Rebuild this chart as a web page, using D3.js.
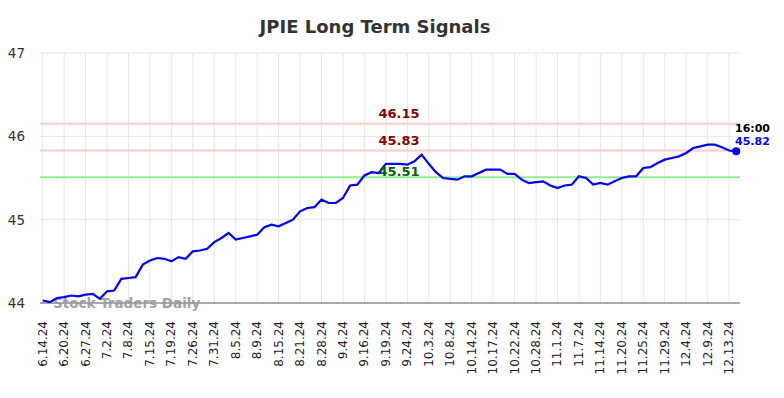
<!DOCTYPE html>
<html><head><meta charset="utf-8">
<script src="https://cdn.jsdelivr.net/npm/d3@7"></script>
<style>body{margin:0;background:#fff}svg{display:block;font-family:"DejaVu Sans",sans-serif}</style>
</head><body><svg id="c" width="784" height="398"></svg>
<script>
const tickLabels = ["6.14.24","6.20.24","6.27.24","7.2.24","7.8.24","7.15.24","7.19.24","7.26.24","7.31.24","8.5.24","8.9.24","8.15.24","8.21.24","8.28.24","9.4.24","9.16.24","9.19.24","9.24.24","10.3.24","10.8.24","10.14.24","10.17.24","10.22.24","10.28.24","11.1.24","11.7.24","11.14.24","11.20.24","11.25.24","11.29.24","12.4.24","12.9.24","12.13.24"];
const prices = [44.03,44.01,44.06,44.07,44.09,44.08,44.10,44.11,44.05,44.14,44.15,44.29,44.30,44.31,44.46,44.51,44.54,44.53,44.50,44.55,44.53,44.62,44.63,44.65,44.73,44.78,44.84,44.76,44.78,44.80,44.82,44.91,44.94,44.92,44.96,45.00,45.10,45.14,45.15,45.24,45.20,45.20,45.26,45.41,45.42,45.53,45.57,45.56,45.67,45.67,45.67,45.66,45.70,45.78,45.67,45.57,45.50,45.49,45.48,45.52,45.52,45.56,45.60,45.60,45.60,45.55,45.55,45.48,45.44,45.45,45.46,45.41,45.38,45.41,45.42,45.52,45.50,45.42,45.44,45.42,45.46,45.50,45.52,45.52,45.62,45.63,45.68,45.72,45.74,45.76,45.80,45.86,45.88,45.90,45.90,45.87,45.83,45.82];
const tickEvery = 3;
const yTicks = [44,45,46,47];
const resistance = [46.15, 45.83];
const support = [45.51];
const lastTime = "16:00";

const svg = d3.select("#c");
const L = 40, R = 740, T = 53, B = 303;
const x = d3.scaleLinear().domain([0, prices.length - 1]).range([42.7, 736.2]);
const y = d3.scaleLinear().domain([44, 47]).range([B, T]);

// title
svg.append("text").attr("x", 375).attr("y", 33).attr("text-anchor", "middle")
  .attr("font-size", 18).attr("font-weight", "bold").attr("fill", "#333").text("JPIE Long Term Signals");

// grid
const tickIdx = tickLabels.map((d, i) => i * tickEvery);
svg.append("g").selectAll("line").data(tickIdx).join("line")
  .attr("x1", d => x(d)).attr("x2", d => x(d)).attr("y1", T).attr("y2", B)
  .attr("stroke", "#e6e6e6").attr("stroke-width", 1);
svg.append("g").selectAll("line").data(yTicks.slice(1)).join("line")
  .attr("x1", L).attr("x2", R).attr("y1", d => y(d)).attr("y2", d => y(d))
  .attr("stroke", "#e6e6e6").attr("stroke-width", 1);

// y labels
svg.append("g").selectAll("text").data(yTicks).join("text")
  .attr("x", 25).attr("y", d => y(d) + 5).attr("text-anchor", "end")
  .attr("font-size", 13.5).attr("fill", "#333").text(d => d);

// x labels
svg.append("g").selectAll("text").data(tickLabels).join("text")
  .attr("transform", (d, i) => `translate(${x(tickIdx[i]) + 4},321) rotate(-90)`)
  .attr("text-anchor", "end").attr("font-size", 12).attr("fill", "#222").text(d => d);

// axis line
svg.append("line").attr("x1", L).attr("x2", R).attr("y1", B).attr("y2", B)
  .attr("stroke", "#555").attr("stroke-width", 1);

// watermark
svg.append("text").attr("x", 53).attr("y", 308).attr("font-size", 13.5).attr("font-weight", "bold")
  .attr("fill", "#999").attr("opacity", 0.9).text("Stock Traders Daily");

// level lines
svg.append("g").selectAll("line").data(resistance).join("line")
  .attr("x1", L).attr("x2", R).attr("y1", d => y(d)).attr("y2", d => y(d))
  .attr("stroke", "#ffcccc").attr("stroke-width", 2);
svg.append("g").selectAll("line").data(support).join("line")
  .attr("x1", L).attr("x2", R).attr("y1", d => y(d)).attr("y2", d => y(d))
  .attr("stroke", "#90ee90").attr("stroke-width", 2);

// line
svg.append("path").datum(prices)
  .attr("d", d3.line().x((d, i) => x(i)).y(d => y(d)))
  .attr("fill", "none").attr("stroke", "#0000ff").attr("stroke-width", 2.2);

// level labels
svg.append("g").selectAll("text").data(resistance).join("text")
  .attr("x", 399).attr("y", d => y(d) - 6).attr("text-anchor", "middle")
  .attr("font-size", 13).attr("font-weight", "bold").attr("fill", "#8b0000").text(d => d.toFixed(2));
svg.append("g").selectAll("text").data(support).join("text")
  .attr("x", 399).attr("y", d => y(d) - 1).attr("text-anchor", "middle")
  .attr("font-size", 13).attr("font-weight", "bold").attr("fill", "#006400").text(d => d.toFixed(2));

// end marker
const li = prices.length - 1;
svg.append("circle").attr("cx", x(li)).attr("cy", y(prices[li])).attr("r", 4).attr("fill", "#0000ff");
svg.append("text").attr("x", 735).attr("y", 132).attr("font-size", 11).attr("font-weight", "bold")
  .attr("fill", "#000").text(lastTime);
svg.append("text").attr("x", 735).attr("y", 145).attr("font-size", 11).attr("font-weight", "bold")
  .attr("fill", "#0000ff").text(prices[li].toFixed(2));
</script></body></html>
